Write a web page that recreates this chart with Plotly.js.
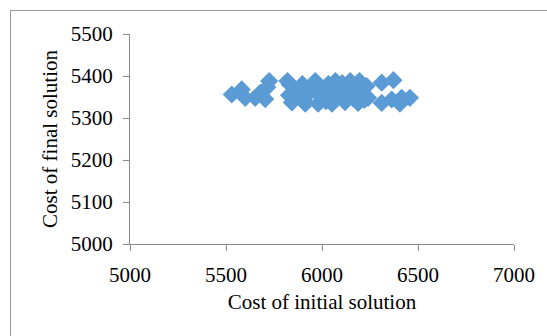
<!DOCTYPE html>
<html>
<head>
<meta charset="utf-8">
<script src="https://cdn.plot.ly/plotly-3.0.1.min.js"></script>
<style>
html,body{margin:0;padding:0;background:#fff;}
#wrap{position:relative;width:547px;height:336px;overflow:hidden;}
#frame{position:absolute;left:10px;top:10px;width:600px;height:400px;border:1px solid #9a9a9a;box-sizing:border-box;}
#chart{position:absolute;left:0;top:0;width:547px;height:336px;}
</style>
</head>
<body>
<div id="wrap"><div id="frame"></div><div id="chart"></div></div>
<script>
const initialCost = [5530,5582,5600,5652,5678,5704,5725,5715,
  5820,5832,5828,5843,5860,5870,
  5898,5905,5913,5930,5950,
  5965,5980,5990,6010,6020,
  6033,6045,6052,6070,6080,6095,
  6105,6120,6130,6147,6160,6170,
  6188,6195,6205,6220,6232,6240,
  6311,6372,6311,6363,6415,6458,6406];
const finalCost = [5356,5368,5348,5348,5360,5345,5388,5373,
  5388,5380,5354,5337,5348,5363,
  5381,5343,5334,5358,5370,
  5388,5334,5353,5368,5340,
  5381,5358,5334,5388,5348,5370,
  5383,5338,5360,5388,5348,5373,
  5336,5388,5358,5343,5376,5348,
  5384,5390,5336,5344,5348,5348,5334];
const xTitle = 'Cost of initial solution';
const yTitle = 'Cost of final solution';

const font = {family: '"Liberation Serif", "Times New Roman", serif', size: 21, color: '#000'};
const axisCommon = {
  showgrid: false, zeroline: false, showline: true, linecolor: '#898989', linewidth: 1,
  ticks: 'outside', tickcolor: '#898989', ticklen: 6, tickfont: font
};
Plotly.newPlot('chart', [{
  x: initialCost, y: finalCost, type: 'scatter', mode: 'markers',
  marker: {symbol: 'diamond', size: 14, color: '#5B9BD5'}
}], {
  width: 547, height: 336,
  paper_bgcolor: 'rgba(0,0,0,0)', plot_bgcolor: 'rgba(0,0,0,0)',
  margin: {l: 130, r: 33, t: 34, b: 92},
  showlegend: false,
  font: font,
  xaxis: Object.assign({}, axisCommon, {range: [5000, 7000], dtick: 500, tick0: 5000,
    ticklabelstandoff: 6,
    title: {text: xTitle, font: font, standoff: 8}}),
  yaxis: Object.assign({}, axisCommon, {range: [5000, 5500], dtick: 100, tick0: 5000,
    ticklabelstandoff: 6,
    title: {text: yTitle, font: font, standoff: 7}})
}, {staticPlot: true});
</script>
</body>
</html>
